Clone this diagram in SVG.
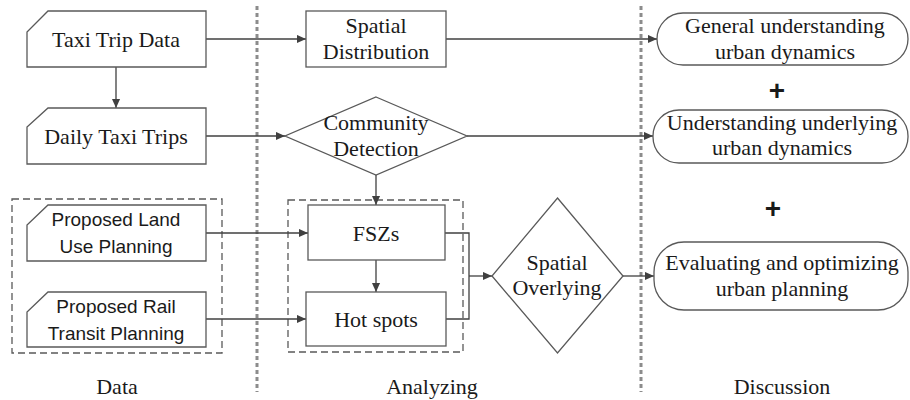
<svg xmlns="http://www.w3.org/2000/svg" width="910" height="400" viewBox="0 0 910 400">
<defs>
<marker id="ah" viewBox="0 0 10 10" refX="10" refY="5" markerWidth="9" markerHeight="9" markerUnits="userSpaceOnUse" orient="auto">
<path d="M0,0.5 L10,5 L0,9.5 Z" fill="#404040"/>
</marker>
<style>
.shape{fill:#fff;stroke:#595959;stroke-width:1.3}
.dbox{fill:none;stroke:#595959;stroke-width:1.3;stroke-dasharray:7 4}
.vsep{fill:none;stroke:#8c8c8c;stroke-width:3;stroke-dasharray:4 3}
.conn{fill:none;stroke:#404040;stroke-width:1.3}
.arr{marker-end:url(#ah)}
.t{font-family:"Liberation Serif","Times New Roman",serif;font-size:22px;fill:#1a1a1a;text-anchor:middle}
.s{font-family:"Liberation Sans",Arial,sans-serif;font-size:19px;fill:#1a1a1a;text-anchor:middle}
.plus{font-family:"Liberation Sans",Arial,sans-serif;font-size:28px;font-weight:bold;fill:#1a1a1a;text-anchor:middle}
</style>
</defs>
<rect width="910" height="400" fill="#fff"/>
<g id="separators">
<line class="vsep" x1="257" y1="6" x2="257" y2="392"/>
<line class="vsep" x1="641" y1="6" x2="641" y2="392"/>
</g>
<g id="groups">
<rect class="dbox" x="12" y="199" width="210" height="154"/>
<rect class="dbox" x="288" y="200" width="175" height="152"/>
</g>
<g id="connectors">
<line class="conn arr" x1="206" y1="39" x2="306" y2="39"/>
<line class="conn arr" x1="116" y1="67" x2="116" y2="108"/>
<line class="conn arr" x1="446" y1="39" x2="657" y2="39"/>
<line class="conn arr" x1="206" y1="136" x2="285" y2="136"/>
<line class="conn arr" x1="467" y1="136" x2="653" y2="136"/>
<line class="conn arr" x1="376" y1="175" x2="376" y2="205"/>
<line class="conn arr" x1="206" y1="233" x2="308" y2="233"/>
<line class="conn arr" x1="206" y1="319" x2="306" y2="319"/>
<line class="conn arr" x1="376" y1="260" x2="376" y2="292"/>
<polyline class="conn" points="445,233 469,233 469,319 446,319"/>
<line class="conn arr" x1="469" y1="276" x2="492" y2="276"/>
<line class="conn arr" x1="623" y1="276" x2="654" y2="276"/>
</g>
<g id="taxi-trip-data">
<path class="shape" d="M48,11 H206 V67 H27 V32 Z"/>
<text class="t" x="116" y="47">Taxi Trip Data</text>
</g>
<g id="daily-taxi-trips">
<path class="shape" d="M48,108 H206 V164 H27 V127 Z"/>
<text class="t" x="116" y="144">Daily Taxi Trips</text>
</g>
<g id="proposed-land-use">
<path class="shape" d="M48,205 H206 V261 H27 V225 Z"/>
<text class="s" x="116" y="226">Proposed Land</text>
<text class="s" x="116" y="253">Use Planning</text>
</g>
<g id="proposed-rail-transit">
<path class="shape" d="M48,292 H206 V347 H27 V312 Z"/>
<text class="s" x="116" y="313">Proposed Rail</text>
<text class="s" x="116" y="340">Transit Planning</text>
</g>
<g id="spatial-distribution">
<rect class="shape" x="306" y="11" width="140" height="56"/>
<text class="t" x="376" y="33">Spatial</text>
<text class="t" x="376" y="59">Distribution</text>
</g>
<g id="community-detection">
<path class="shape" d="M376,97 L467,136 L376,175 L285,136 Z"/>
<text class="t" x="376" y="130">Community</text>
<text class="t" x="376" y="156">Detection</text>
</g>
<g id="fszs">
<rect class="shape" x="308" y="205" width="137" height="55"/>
<text class="t" x="376" y="241">FSZs</text>
</g>
<g id="hot-spots">
<rect class="shape" x="306" y="292" width="140" height="54"/>
<text class="t" x="376" y="327">Hot spots</text>
</g>
<g id="spatial-overlying">
<path class="shape" d="M557.5,198 L623,276 L557.5,353 L492,276 Z"/>
<text class="t" x="557" y="270">Spatial</text>
<text class="t" x="557" y="295">Overlying</text>
</g>
<g id="general-understanding">
<rect class="shape" x="657" y="13" width="251" height="52" rx="26"/>
<text class="t" x="785" y="33">General understanding</text>
<text class="t" x="785" y="59">urban dynamics</text>
</g>
<g id="understanding-underlying">
<rect class="shape" x="653" y="110" width="255" height="53" rx="26"/>
<text class="t" x="782" y="130">Understanding underlying</text>
<text class="t" x="782" y="155">urban dynamics</text>
</g>
<g id="evaluating">
<rect class="shape" x="654" y="242" width="254" height="68" rx="30"/>
<text class="t" x="782" y="270">Evaluating and optimizing</text>
<text class="t" x="782" y="296">urban planning</text>
</g>
<g id="plus-signs">
<text class="plus" x="777" y="100">+</text>
<text class="plus" x="773" y="218">+</text>
</g>
<g id="column-labels">
<text class="t" x="117" y="394">Data</text>
<text class="t" x="432" y="394">Analyzing</text>
<text class="t" x="782" y="394">Discussion</text>
</g>
</svg>
